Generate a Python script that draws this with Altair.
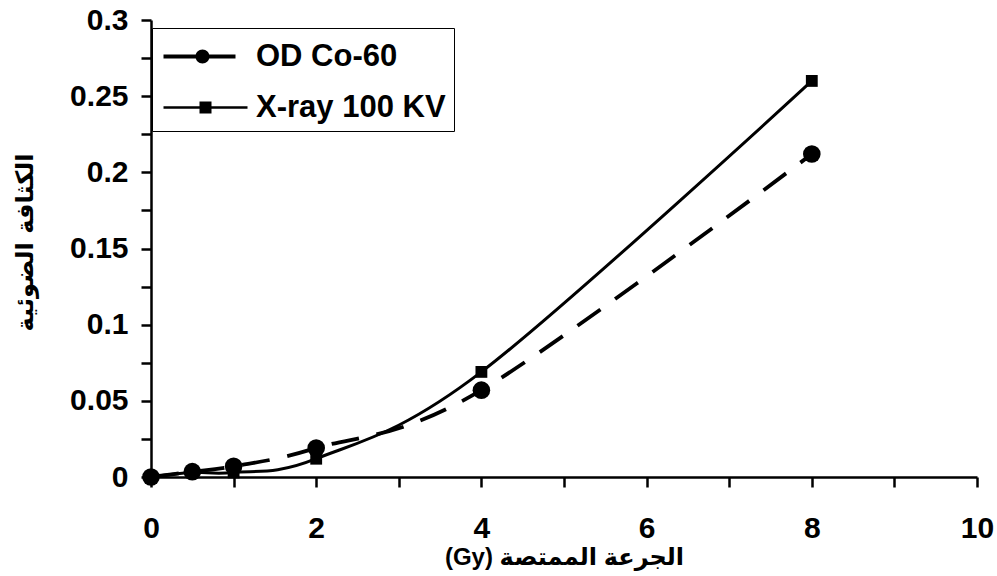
import altair as alt
import pandas as pd

# ---- data ----
series_names = ["OD Co-60", "X-ray 100 KV"]
dose_co = [0, 0.5, 1, 2, 4, 8]
od_co = [0, 0.0035, 0.007, 0.019, 0.057, 0.212]
dose_xr = [0, 0.5, 1, 2, 4, 8]
od_xr = [0, 0.003, 0.003, 0.012, 0.069, 0.26]

x_tick_values = [0, 1, 2, 3, 4, 5, 6, 7, 8, 9, 10]
y_tick_values = [0, 0.025, 0.05, 0.075, 0.1, 0.125, 0.15, 0.175, 0.2, 0.225, 0.25, 0.275, 0.3]
x_title = "(Gy) الجرعة الممتصة"
y_title = "الكثافة الضوئية"

df_co = pd.DataFrame({"dose": dose_co, "od": od_co, "series": series_names[0]})
df_xr = pd.DataFrame({"dose": dose_xr, "od": od_xr, "series": series_names[1]})
df_all = pd.concat([df_co, df_xr], ignore_index=True)

LAT = "Liberation Sans, Arial, DejaVu Sans"

x_enc = alt.X(
    "dose:Q",
    scale=alt.Scale(domain=[0, 10], nice=False, zero=False),
    axis=alt.Axis(
        values=x_tick_values,
        labelExpr="datum.value % 2 == 0 ? datum.label : ''",
        grid=False,
        domainColor="black", domainWidth=2.5,
        tickColor="black", tickWidth=2.5, tickSize=10,
        labelFont=LAT, labelFontWeight="bold", labelFontSize=30, labelColor="black",
        labelPadding=26, labelFlush=False, labelOverlap=False,
        title=x_title, titleFont=LAT, titleFontWeight="bold", titleFontSize=24,
        titleColor="black", titleBaseline="middle", titleY=80,
    ),
)
y_enc = alt.Y(
    "od:Q",
    scale=alt.Scale(domain=[0, 0.3], nice=False, zero=False),
    axis=alt.Axis(
        values=y_tick_values,
        labelExpr="abs(datum.value*20 - round(datum.value*20)) < 0.000001 ? format(datum.value, '~g') : ''",
        grid=False,
        domainColor="black", domainWidth=2.5,
        tickColor="black", tickWidth=2.5, tickSize=10,
        labelFont=LAT, labelFontWeight="bold", labelFontSize=30, labelColor="black",
        labelPadding=13, labelFlush=False, labelOverlap=False,
        title=y_title, titleFont="DejaVu Sans", titleFontWeight="bold", titleFontSize=24,
        titleColor="black", titleAngle=270, titleBaseline="middle", titleAlign="center",
        titleX=-126, titleY=222,
    ),
)

base_co = alt.Chart(df_co)
base_xr = alt.Chart(df_xr)

line_xr = base_xr.mark_line(
    interpolate="cardinal", tension=0, color="black", strokeWidth=3
).encode(x=x_enc, y=y_enc)
line_co = base_co.mark_line(
    interpolate="cardinal", tension=0, color="black", strokeWidth=3.8, strokeDash=[28, 18]
).encode(x=x_enc, y=y_enc)
pts_xr = base_xr.mark_point(
    shape="square", filled=True, size=140, color="black", opacity=1
).encode(x=x_enc, y=y_enc)
pts_co = base_co.mark_point(
    shape="circle", filled=True, size=310, color="black", opacity=1
).encode(x=x_enc, y=y_enc)

# legend symbols (line + marker) as custom symbol paths, in units of 10 px
path_co = "M-1,-0.2H6.2V0.2H-1Z M2.2,0A0.7,0.7,0,1,1,3.6,0A0.7,0.7,0,1,1,2.2,0Z"
path_xr = "M-1,-0.125H7.4V0.125H-1Z M2.6,-0.6H3.8V0.6H2.6Z"

legend_layer = alt.Chart(df_all).transform_filter("datum.dose < 0").mark_point(
    filled=True, color="black", opacity=1
).encode(
    x=x_enc, y=y_enc,
    shape=alt.Shape(
        "series:N",
        scale=alt.Scale(domain=series_names, range=[path_co, path_xr]),
        legend=alt.Legend(
            title=".", titleColor="white", titleFontSize=5, titlePadding=0,
            orient="none", legendX=1, legendY=8, direction="vertical",
            symbolSize=400, symbolStrokeWidth=0, symbolFillColor="black",
            symbolStrokeColor="black", symbolOpacity=1, symbolOffset=-2,
            labelFont=LAT, labelFontWeight="bold", labelFontSize=31, labelColor="black",
            labelOffset=67, labelLimit=400, padding=8, rowPadding=19,
            strokeColor="black", fillColor="white",
        ),
    ),
)

chart = alt.layer(line_xr, line_co, pts_xr, pts_co, legend_layer).properties(
    width=826, height=457,
    autosize=alt.AutoSizeParams(type="none"),
    padding={"left": 151, "top": 20, "right": 20, "bottom": 99},
    background="white",
).configure_view(stroke=None)

chart.save("out.html", embed_options={"renderer": "svg", "actions": False})
